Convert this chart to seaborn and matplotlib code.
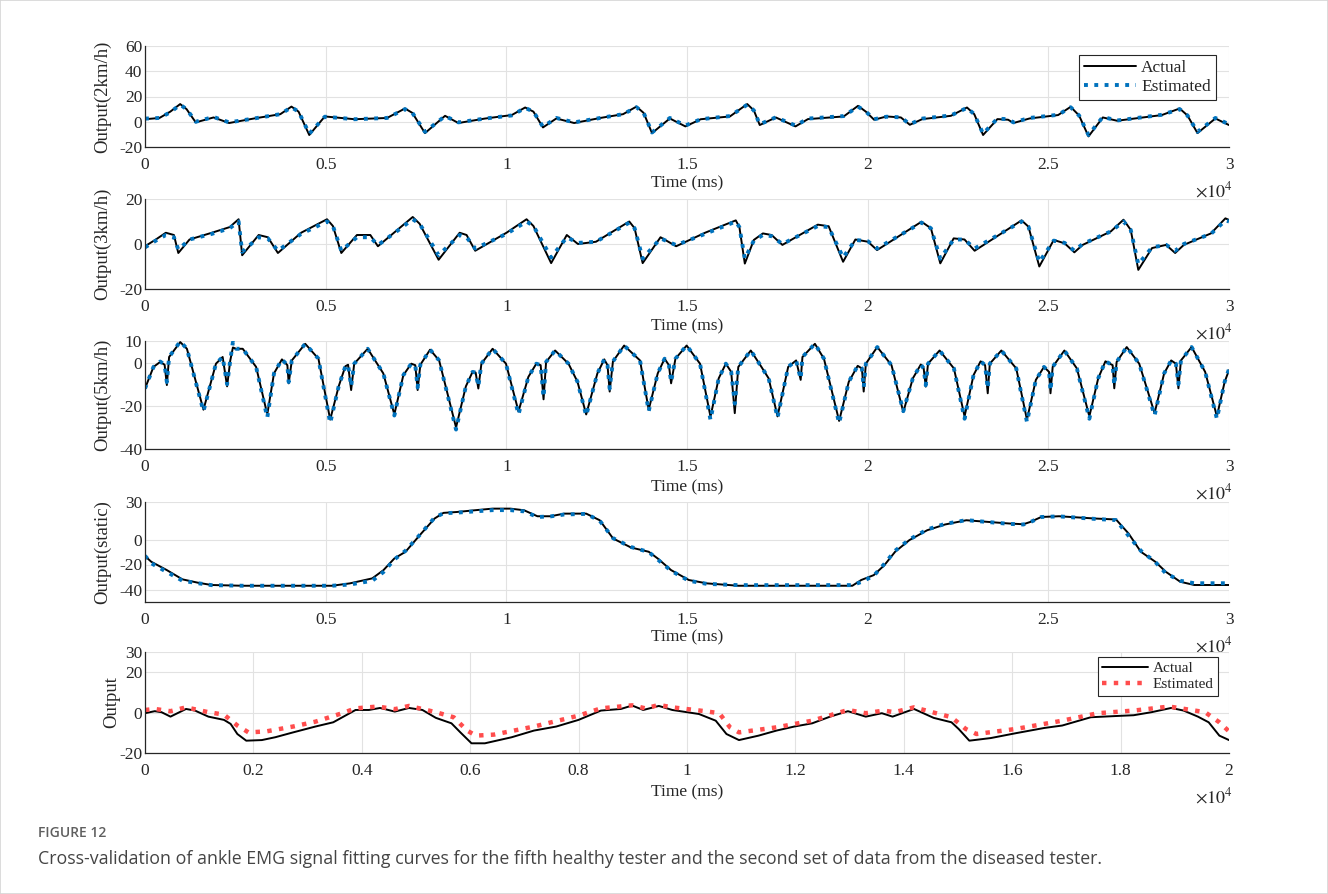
import numpy as np
import pandas as pd
import matplotlib
matplotlib.use("Agg")
import matplotlib.pyplot as plt
from matplotlib.patches import Rectangle
import seaborn as sns

# ---------------- data (time in ms) ----------------
p1_t = [0, 400, 700, 973, 1150, 1404, 1897, 2328, 3000, 3745, 4053, 4250, 4546, 4977, 5800,
        6700, 7195, 7400, 7749, 8304, 8673, 9400, 10150, 10521, 10750, 11014, 11384, 11876,
        12600, 13231, 13601, 13800, 14032, 14525, 14956, 15381, 16188, 16667, 16850, 17013,
        17458, 18002, 18348, 19337, 19733, 19950, 20178, 20524, 20920, 21167, 21513, 22304,
        22749, 22950, 23194, 23590, 23887, 24035, 24480, 25271, 25617, 25850, 26112, 26508,
        26903, 28140, 28634, 28850, 29128, 29623, 30000]
p1_act = [2, 3, 8, 14, 10, -0.5, 3.4, -1, 2.5, 6, 12, 8, -10.5, 4.2, 2, 3, 10.5, 7, -9, 4.7,
          -1, 2.5, 5.3, 11.3, 8, -4.5, 2.6, -1, 3, 6, 12, 7, -9, 2.6, -3.7, 2, 4.2, 14, 9,
          -2.6, 3.4, -3.7, 2.1, 4.2, 12.6, 8, 1.6, 4.2, 3.4, -2.4, 2.1, 4.7, 11.3, 6, -10.5,
          2.1, 1.6, -1, 2.6, 5.3, 11.8, 5, -11.6, 3.4, 0.8, 5.3, 10.5, 5, -9, 2.6, -2.6]
p1_est = [2.5, 3, 7.5, 13.5, 10, 0, 3.8, -0.5, 2.5, 6, 11.5, 8, -9.5, 4, 2, 3, 10, 7, -8, 4.5,
          -0.5, 2.5, 5, 11, 8, -4, 3, -0.5, 3, 6, 11.5, 7, -8.5, 3, -3, 2, 4.5, 13.5, 9, -2,
          3.5, -3, 2.5, 4.5, 12, 8, 2, 4, 3.5, -2, 2.5, 5, 11, 6, -9.5, 2.5, 2, -0.5, 3, 5.5,
          11.5, 5, -10.5, 3.8, 1, 5.5, 10, 5, -8, 3, -2]

p2_t = [0, 300, 576, 800, 922, 1232, 1849, 2342, 2590, 2689, 3146, 3400, 3678, 4320, 5037,
        5200, 5433, 5865, 6236, 6446, 7038, 7409, 7600, 8126, 8708, 8900, 9139, 10004, 10560,
        10750, 11240, 11673, 11982, 12480, 13402, 13550, 13773, 14267, 14700, 15500, 16350,
        16450, 16600, 16850, 17100, 17340, 17640, 18620, 18920, 19320, 19660, 20010, 20260,
        21490, 21750, 22010, 22380, 22680, 22960, 24260, 24450, 24750, 25150, 25450, 25720,
        25950, 26730, 27080, 27280, 27490, 27870, 28260, 28510, 28750, 29500, 29900, 30000]
p2_act = [-1, 2, 5, 4, -4, 2, 5, 7.5, 11, -5, 4, 3, -4, 5, 11, 8, -4, 4, 4, -1, 7, 12, 9, -7,
          5, 4, -3, 5, 11, 8, -8.5, 4, 0, 1, 10, 7, -8.5, 3, -1, 5, 10.5, 7.5, -8.7, 1.8, 4.7,
          4, -0.4, 8.6, 7.9, -7.9, 2, 1, -2.7, 9.9, 7, -8.6, 2.5, 2, -3, 10.5, 7.7, -10, 1.8,
          0.3, -3.7, -0.4, 5.6, 10.8, 6.3, -11.5, -1.8, -0.4, -4, -0.4, 4.7, 11.4, 10.7]
p2_est = [-1.5, 1.5, 4, 3, -2.5, 2, 4.5, 7, 10, -3.5, 3, 2.5, -3, 4.5, 10, 8, -3, 3, 3, -0.5,
          6.5, 11, 9, -5, 4, 3, -2, 4.5, 10, 8, -6, 3, 0.5, 1, 9.5, 7, -6.5, 2.5, -0.5, 4.5,
          10, 7.5, -6.5, 1.5, 4, 3.5, 0, 8, 7.5, -6, 1.8, 1.2, -2, 9.5, 7, -6.5, 2, 2, -2,
          10, 7.7, -8, 1.5, 0.5, -3, 0, 5.6, 10, 6.3, -9, -1.5, -0.4, -3, 0, 4.5, 10.5, 10]

p3_t = [0, 235, 420, 543, 605, 667, 975, 1160, 1618, 1964, 2149, 2272, 2360, 2433, 2520, 2705,
        3075, 3384, 3570, 3790, 3940, 3977, 4063, 4434, 4800, 5125, 5360, 5545, 5620, 5705,
        5790, 6163, 6595, 6900, 7150, 7370, 7480, 7545, 7620, 7890, 8140, 8608, 8880, 9065,
        9150, 9225, 9310, 9620, 9990, 10337, 10610, 10830, 10950, 11030, 11100, 11350, 11720,
        11970, 12210, 12520, 12710, 12800, 12860, 12950, 13260, 13700, 13940, 14190, 14380,
        14500, 14560, 14680, 14990, 15360, 15650, 15877, 16075, 16223, 16322, 16420, 16765,
        17060, 17260, 17505, 17800, 18020, 18146, 18195, 18540, 18790, 19210, 19477, 19724,
        19840, 19890, 19950, 20266, 20660, 20986, 21250, 21470, 21550, 21607, 21670, 21990,
        22387, 22682, 22930, 23126, 23250, 23323, 23380, 23700, 24112, 24408, 24655, 24880,
        25020, 25060, 25120, 25444, 25790, 26135, 26380, 26580, 26780, 26825, 26890, 27170,
        27515, 27940, 28205, 28400, 28530, 28600, 28670, 28965, 29340, 29665, 29880, 30000]
p3_act = [-12, -2, 0.3, -1, -10.4, 2.6, 9.5, 6.4, -21.8, -0.5, 2.6, -11, 1, 7, 6.4, 6.4, -2,
          -24, -5, 1.5, -1.2, -9.6, 1, 8.7, 1.8, -26.4, -11, -1.7, -1, -12.7, -0.5, 6.4, -5,
          -24, -5.8, -0.5, -1.2, -12.7, -1, 6, 1, -30, -11, -4.3, -4.6, -12, -0.5, 6.4, -0.5,
          -22.6, -6.6, -0.5, -1.2, -17, 0.3, 5.6, -0.5, -8.9, -24, -5, 1.5, -1.2, -13.4, 0.5,
          7.9, 1, -21.8, -5, 1.8, -1.2, -9.6, 1.8, 7.9, -0.5, -25, -7.3, -0.5, -4.3, -23.4, -2,
          5.6, -2, -7.3, -24.9, -2, 1, -8, 2.6, 8.7, 1.8, -27, -8.9, -1.5, -2.7, -13.4, -0.5,
          7.2, -1.2, -22.9, -7.3, -0.9, -2.7, -11.1, -0.5, 5.6, -2.7, -24.9, -5.8, 0.6, -1.2,
          -14.2, -0.5, 5.6, -2.7, -26.4, -8, -2, -4.3, -14.2, -2, 5.6, -2.7, -24.9, -7.3, 0.6,
          -1.2, -11.9, 0.3, 7.2, -0.5, -23.4, -5, 1, -0.5, -11.9, 1, 7.2, -4.3, -24.9, -8.9,
          -3.5]
p3_est = [-12, -2, 0.5, -1, -9, 2.6, 9.8, 6.4, -22.5, -0.5, 2.6, -10, 1, 9.5, 6.4, 6.4, -2,
          -25.5, -5, 1.5, -1.2, -9, 1, 8.7, 1.8, -28, -11, -1.7, -1, -11, -0.5, 6.4, -5, -24.5,
          -5.8, -0.5, -1.2, -11.5, -1, 6, 1, -31, -11, -4.3, -4.6, -11, -0.5, 6.4, -0.5, -24,
          -6.6, -0.5, -1.2, -16, 0.3, 5.6, -0.5, -8.9, -24.5, -5, 1.5, -1.2, -12, 0.5, 7.9, 1,
          -22.5, -5, 1.8, -1.2, -9, 1.8, 7.9, -0.5, -26.5, -7.3, -0.5, -4.3, -19, -2, 5.6, -2,
          -7.3, -25.5, -2, 1, -7.5, 2.6, 8.7, 1.8, -28, -8.9, -1.5, -2.7, -11.5, -0.5, 7.2,
          -1.2, -22.5, -7.3, -0.9, -2.7, -10.5, -0.5, 5.6, -2.7, -26, -5.8, 0.6, -1.2, -12,
          -0.5, 5.6, -2.7, -27.5, -8, -2, -4.3, -13, -2, 5.6, -2.7, -26, -7.3, 0.6, -1.2,
          -10.5, 0.3, 7.2, -0.5, -24.5, -5, 1, -0.5, -10, 1, 7.2, -4.3, -26, -8.9, -3]

p4_t = [0, 173, 605, 1037, 1470, 1840, 2705, 5175, 5670, 6290, 6600, 6900, 7210, 7645, 8015,
        8260, 8630, 9130, 9620, 10110, 10490, 10860, 11225, 11600, 12210, 12585, 12955, 13450,
        13940, 14190, 14560, 15050, 15550, 16420, 19576, 19822, 20168, 20464, 20760, 21154,
        21647, 22140, 22730, 23323, 23915, 24310, 24507, 24803, 25296, 26282, 26874, 27220,
        27560, 27960, 28250, 28650, 29040, 30000]
p4_act = [-13.3, -17.8, -24.5, -31.9, -34.6, -36.4, -37, -37, -35.1, -31.1, -24.5, -15.2, -9.8,
          4.8, 16.8, 21.3, 22, 23.4, 24.7, 24.7, 23.4, 18.6, 18.6, 20.7, 20.7, 15.4, 0.8, -6.4,
          -9.8, -15.2, -24.5, -32.4, -35.1, -37, -37, -32.4, -28.5, -20.5, -9.8, -0.5, 7.4, 12,
          15.4, 14.1, 12.8, 12.2, 14.1, 18, 18.6, 16.8, 16, 4.8, -9.8, -17.8, -25.8, -33.8,
          -36.4, -36.4]
p4_est = [-13, -19, -26, -33, -35, -36.5, -37, -37, -36, -33, -26, -16, -9, 5, 17.5, 21, 21.5,
          22.5, 23.5, 23.5, 22.5, 18, 18.5, 20, 20.5, 15, 1, -6, -10, -16, -25, -33, -35.5,
          -36.5, -36.5, -34, -29, -19.5, -9, 0, 8, 12.5, 15.5, 14, 12.5, 12, 14, 18, 18.5,
          16.5, 15.5, 3, -9, -18, -27, -33, -35, -35]

p5_t_act = [0, 180, 305, 470, 757, 922, 1170, 1457, 1580, 1704, 1868, 2156, 2403, 2732, 3144,
            3473, 3885, 4131, 4337, 4609, 4872, 5119, 5366, 5654, 5819, 6024, 6271, 6765, 7176,
            7588, 8000, 8411, 8780, 8987, 9193, 9481, 9728, 10221, 10530, 10728, 10959, 11321,
            11651, 11980, 12310, 12640, 12969, 13298, 13595, 13793, 14188, 14550, 14880, 15012,
            15209, 15605, 16066, 16593, 16923, 17450, 17911, 18241, 18570, 18933, 19163, 19427,
            19625, 19822, 20000]
p5_act = [-0.3, 0.7, 0.2, -2, 1.8, 1, -2, -3.6, -5.6, -10.6, -13.9, -13.6, -12.2, -9.8, -6.9,
          -4.8, 1.3, 1.3, 2.3, 0.5, 2.3, 1.3, -2.6, -5.3, -9.8, -15.2, -15.2, -12.2, -8.9, -6.9,
          -3.6, 1, 1.8, 3.5, 1.3, 3.3, 1.3, -0.7, -4, -10.6, -13.6, -11.4, -8.9, -6.9, -5.3, -2,
          0.7, -2, -0.3, -2, 1.8, -2.6, -4.8, -8.1, -13.9, -12.6, -10.2, -7.6, -6.4, -2.3, -1.7,
          -1.3, 0.2, 2.3, 1, -2, -4.8, -11.4, -13.6]
p5_t_est = [0, 181, 469, 757, 1169, 1457, 1704, 1909, 2239, 2732, 3144, 3638, 3885, 4296, 4609,
            4872, 5366, 5695, 5942, 6107, 6436, 7177, 8000, 8411, 8987, 9234, 9481, 9728, 10333,
            10596, 10794, 10959, 11651, 12310, 12969, 13298, 13628, 13825, 14188, 14880, 15143,
            15341, 16066, 16923, 17582, 18241, 18900, 19559, 19822, 20000]
p5_est = [1.3, 1.8, 0.7, 2.6, 0.2, -1, -6.4, -9.8, -9.3, -6.9, -4.5, -0.3, 2.1, 3, 1.7, 3.3,
          0.2, -2.3, -8.9, -11.4, -10.9, -6.9, -1.5, 2.1, 3.6, 2.1, 3.8, 2.6, 0.7, -0.3, -7.3,
          -9.8, -7.3, -4, 1.3, -0.3, 1, 0.2, 2.6, -2.3, -8.1, -10.6, -8.1, -4, -0.3, 1, 3, 0.2,
          -4.8, -9.3]

ylabels = ["Output(2km/h)", "Output(3km/h)", "Output(5km/h)", "Output(static)", "Output"]
ytick_sets = [[-20, 0, 20, 40, 60], [-20, 0, 20], [-40, -20, 0, 10], [-40, -20, 0, 30],
              [-20, 0, 20, 30]]
ylims = [(-20, 60), (-20, 20), (-40, 10), (-50, 30), (-20, 30)]
xticks_30k = [0, 5000, 10000, 15000, 20000, 25000, 30000]
xlabels_30k = ["0", "0.5", "1", "1.5", "2", "2.5", "3"]
xticks_20k = [0, 2000, 4000, 6000, 8000, 10000, 12000, 14000, 16000, 18000, 20000]
xlabels_20k = ["0", "0.2", "0.4", "0.6", "0.8", "1", "1.2", "1.4", "1.6", "1.8", "2"]
legend_labels = ["Actual", "Estimated"]
caption_head = "FIGURE 12"
caption_text = ("Cross-validation of ankle EMG signal fitting curves for the fifth healthy tester "
                "and the second set of data from the diseased tester.")

# ---------------- style ----------------
sns.set_style("white")
plt.rcParams["font.family"] = ["Liberation Serif", "DejaVu Serif"]
plt.rcParams["mathtext.fontset"] = "stix"

W, H = 1328, 894
fig = plt.figure(figsize=(W / 100, H / 100), dpi=100)
LEFT, RIGHT = 145, 1229
boxes = [(46, 147), (199, 289), (341, 449), (502, 602), (652, 753)]
time_off = [28, 29, 30, 27, 31]
ylabel_x = [102, 102, 102, 102, 111]

BLUE = "#0072BD"
RED = "#FF4D4D"

series = [
    (p1_t, p1_act, p1_t, p1_est, BLUE),
    (p2_t, p2_act, p2_t, p2_est, BLUE),
    (p3_t, p3_act, p3_t, p3_est, BLUE),
    (p4_t, p4_act, p4_t, p4_est, BLUE),
    (p5_t_act, p5_act, p5_t_est, p5_est, RED),
]

for i, (top, bot) in enumerate(boxes):
    hpx = bot - top
    ax = fig.add_axes([LEFT / W, 1 - bot / H, (RIGHT - LEFT) / W, hpx / H])
    ta, ya, te, ye, ecol = series[i]
    df_a = pd.DataFrame({"t": ta, "v": ya})
    df_e = pd.DataFrame({"t": te, "v": ye})
    sns.lineplot(data=df_a, x="t", y="v", ax=ax, color="black", linewidth=1.4,
                 estimator=None, sort=False, legend=False)
    sns.lineplot(data=df_e, x="t", y="v", ax=ax, color=ecol,
                 linewidth=(2.8 if i < 4 else 3.2), linestyle=":",
                 estimator=None, sort=False, legend=False)

    if i < 4:
        ax.set_xlim(0, 30000)
        ax.set_xticks(xticks_30k)
        ax.set_xticklabels(xlabels_30k)
    else:
        ax.set_xlim(0, 20000)
        ax.set_xticks(xticks_20k)
        ax.set_xticklabels(xlabels_20k)
    ax.set_ylim(*ylims[i])
    ax.set_yticks(ytick_sets[i])
    ax.set_yticklabels([str(v) for v in ytick_sets[i]])

    ax.grid(True, color="#e2e2e2", linewidth=0.8)
    ax.set_axisbelow(True)
    for s in ["top", "right"]:
        ax.spines[s].set_visible(False)
    for s in ["left", "bottom"]:
        ax.spines[s].set_color("#262626")
        ax.spines[s].set_linewidth(0.9)
    ax.tick_params(direction="in", length=7, width=0.9, color="#262626",
                   labelsize=12.5, labelcolor="#262626")
    ax.tick_params(axis="x", pad=7.5)
    ax.tick_params(axis="y", pad=2)

    ax.set_xlabel("Time (ms)", fontsize=12.5, color="#262626")
    ax.xaxis.set_label_coords(0.5, -time_off[i] / hpx)
    ax.set_ylabel(ylabels[i], fontsize=13.5, color="#262626")
    ax.yaxis.set_label_coords(-(LEFT - ylabel_x[i] - 9) / (RIGHT - LEFT), 0.5)
    ax.text(1.004, -44 / hpx, r"$\times10^{4}$", transform=ax.transAxes,
            ha="right", va="center", fontsize=13, color="#262626")

    if i in (0, 4):
        lines = ax.get_lines()[:2]
        if i == 0:
            anchor, fs = (0.988, 0.915), 12.5
        else:
            anchor, fs = (0.99, 0.95), 11
        leg = ax.legend(lines, legend_labels, loc="upper right", bbox_to_anchor=anchor,
                        frameon=True, fancybox=False, edgecolor="#262626", fontsize=fs,
                        handlelength=3.0, borderaxespad=0, borderpad=0.3,
                        labelspacing=0.15, handletextpad=0.3, framealpha=1)
        leg.get_frame().set_linewidth(0.8)

fig.text(38 / W, 1 - 833 / H, caption_head, fontfamily="Open Sans", fontsize=10,
         color="#5f5f5f", fontweight="semibold", va="center")
fig.text(38 / W, 1 - 859 / H, caption_text, fontfamily="Open Sans", fontsize=12.8,
         color="#444444", va="center")
fig.patches.append(Rectangle((0, 0), 1, 1, transform=fig.transFigure, fill=False,
                             edgecolor="#d5d5d5", linewidth=1.2))

fig.savefig("out.png", dpi=100)
